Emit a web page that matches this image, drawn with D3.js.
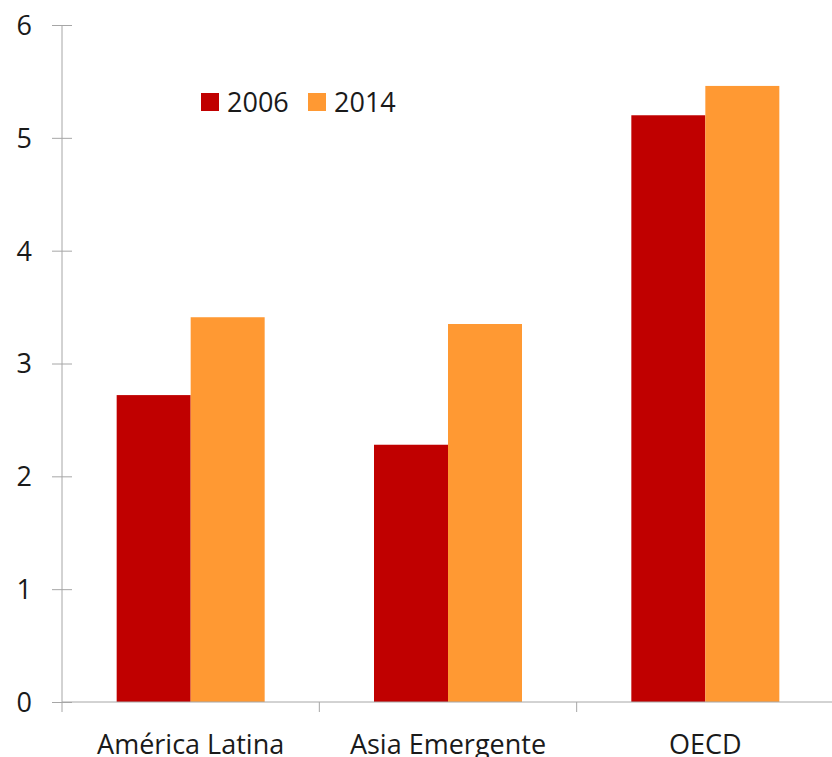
<!DOCTYPE html>
<html><head><meta charset="utf-8">
<script src="https://cdn.jsdelivr.net/npm/d3@7"></script>
<style>body{margin:0;background:#fff}svg{display:block}text{font-family:"Open Sans",sans-serif;fill:#1a1a1a}</style>
</head><body>
<script>
const categories = ["América Latina", "Asia Emergente", "OECD"];
const seriesNames = ["2006", "2014"];
const values2006 = [2.72, 2.28, 5.20];
const values2014 = [3.41, 3.35, 5.46];
const yTicks = [0, 1, 2, 3, 4, 5, 6];
const colors = ["#C00000", "#FF9933"];

const W = 832, H = 757;
const svg = d3.select("body").append("svg").attr("width", W).attr("height", H);
const x0 = d3.scaleBand().domain(categories).range([62, 834]).padding(0);
const step = x0.step(), groupW = 148;
const x1 = d3.scaleBand().domain(seriesNames).range([(step - groupW) / 2, (step + groupW) / 2]).padding(0);
const y = d3.scaleLinear().domain([0, 6]).range([702, 25]);
const color = d3.scaleOrdinal().domain(seriesNames).range(colors);

const data = categories.map((c, i) => ({cat: c, vals: [values2006[i], values2014[i]]}));
const g = svg.append("g");
g.selectAll("g.grp").data(data).join("g").attr("class", "grp")
  .attr("transform", d => `translate(${x0(d.cat)},0)`)
  .selectAll("rect").data(d => d.vals.map((v, j) => ({s: seriesNames[j], v})))
  .join("rect")
  .attr("x", d => x1(d.s)).attr("width", x1.bandwidth())
  .attr("y", d => y(d.v)).attr("height", d => y(0) - y(d.v))
  .attr("fill", d => color(d.s));

// y axis
const ya = svg.append("g").attr("transform", "translate(62,0)")
  .call(d3.axisLeft(y).tickValues(yTicks).tickFormat(d3.format("d")).tickSize(10).tickPadding(20));
ya.select(".domain").attr("stroke", "#a6a6a6").attr("d", `M0,${y(6)}V${y(0)}`);
ya.selectAll(".tick line").attr("stroke", "#a6a6a6").attr("x1", 10).attr("x2", -10);
ya.selectAll(".tick text").style("font-size", "27px").attr("fill", "#1a1a1a").attr("dy", "0.35em");

// x axis
const xa = svg.append("g").attr("transform", `translate(0,${y(0)})`);
xa.append("line").attr("x1", 62).attr("x2", 832).attr("stroke", "#a6a6a6");
const bounds = categories.map(c => x0(c));
xa.selectAll("line.tk").data(bounds).join("line").attr("class", "tk")
  .attr("x1", d => d).attr("x2", d => d).attr("y1", 0).attr("y2", 10).attr("stroke", "#a6a6a6");
xa.selectAll("text").data(categories).join("text")
  .attr("x", d => x0(d) + step / 2).attr("y", 52)
  .attr("text-anchor", "middle").style("font-size", "27px").text(d => d);

// legend
const leg = svg.append("g");
const legX = [201, 308];
seriesNames.forEach((s, i) => {
  leg.append("rect").attr("x", legX[i]).attr("y", 93).attr("width", 18).attr("height", 18).attr("fill", color(s));
  leg.append("text").attr("x", legX[i] + 26).attr("y", 112).style("font-size", "27px").text(s);
});
</script>
</body></html>
